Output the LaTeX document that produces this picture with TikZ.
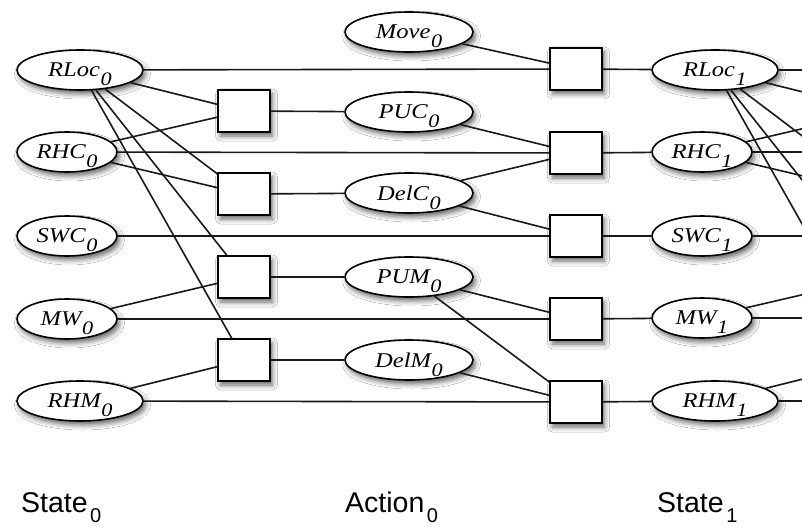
\documentclass[tikz,border=0pt]{standalone}
\usepackage{graphicx}
\usepackage{fontspec}
\usetikzlibrary{shapes.geometric,shadows.blur}
\newfontfamily\serifit{Liberation Serif}
\newfontfamily\sanslab{Liberation Sans}
\newcommand\nlab[2]{\scalebox{1.17}[1]{\serifit\itshape\fontsize{21}{23}\selectfont #1\kern0.5pt\smash{\raisebox{-9pt}{\fontsize{19}{19}\selectfont #2}}}}
\newcommand\blab[2]{{\sanslab\fontsize{28.5}{30}\selectfont #1\kern2.5pt\smash{\raisebox{-10pt}{\fontsize{20}{20}\selectfont #2}}}}
\begin{document}
\begin{tikzpicture}[x=1pt,y=-1pt,
  shad/.style={blur shadow={shadow xshift=2.5pt,shadow yshift=-4pt,shadow blur radius=5pt,shadow opacity=60}},
  var/.style={ellipse,draw=black,line width=1.6pt,fill=white,inner sep=0pt,minimum height=40pt,shad},
  wide/.style={var,minimum width=126pt},
  narrow/.style={var,minimum width=100pt},
  act/.style={var,minimum width=128pt},
  fac/.style={rectangle,draw=black,line width=1.6pt,fill=white,minimum width=52pt,minimum height=42pt,inner sep=0pt,shad},
  link/.style={draw=black!90,line width=1.6pt},
  ttl/.style={anchor=base west,inner sep=0pt}]
\clip (0,0) rectangle (802,529);
\fill[white] (0,0) rectangle (802,529);

% State 0
\node[wide]   (rloc0) at (80,70)  {\nlab{RLoc}{0}};
\node[narrow] (rhc0)  at (67,152) {\nlab{RHC}{0}};
\node[narrow] (swc0)  at (67,236) {\nlab{SWC}{0}};
\node[narrow] (mw0)   at (67,319) {\nlab{MW}{0}};
\node[wide]   (rhm0)  at (80,401) {\nlab{RHM}{0}};

% left factors
\node[fac] (a1) at (244,111) {};
\node[fac] (a2) at (244,194) {};
\node[fac] (a3) at (244,277) {};
\node[fac] (a4) at (244,360) {};

% Action 0
\node[act] (move0) at (409,32)  {\nlab{Move}{0}};
\node[act] (puc0)  at (409,112) {\nlab{PUC}{0}};
\node[act] (delc0) at (409,193) {\nlab{DelC}{0}};
\node[act] (pum0)  at (409,277) {\nlab{PUM}{0}};
\node[act] (delm0) at (409,360) {\nlab{DelM}{0}};

% right factors
\node[fac] (b1) at (576,69)  {};
\node[fac] (b2) at (576,153) {};
\node[fac] (b3) at (576,236) {};
\node[fac] (b4) at (576,319) {};
\node[fac] (b5) at (576,402) {};

% State 1
\node[wide]   (rloc1) at (715,70)  {\nlab{RLoc}{1}};
\node[narrow] (rhc1)  at (702,152) {\nlab{RHC}{1}};
\node[narrow] (swc1)  at (702,236) {\nlab{SWC}{1}};
\node[narrow] (mw1)   at (702,318) {\nlab{MW}{1}};
\node[wide]   (rhm1)  at (715,401) {\nlab{RHM}{1}};

% next slice (off picture)
\coordinate (c1) at (879,111);
\coordinate (c2) at (879,194);
\coordinate (c3) at (879,277);
\coordinate (c4) at (879,360);
\coordinate (e1) at (810,70);
\coordinate (e2) at (810,152);
\coordinate (e3) at (810,236);
\coordinate (e4) at (810,318);
\coordinate (e5) at (810,401);

% connectors state0 -> left factors
\draw[link] (rloc0) -- (a1);
\draw[link] (rloc0) -- (a2);
\draw[link] (rloc0) -- (a3);
\draw[link] (rloc0) -- (a4);
\draw[link] (rhc0) -- (a1);
\draw[link] (rhc0) -- (a2);
\draw[link] (mw0) -- (a3);
\draw[link] (rhm0) -- (a4);

% state0 -> right factors (persistence)
\draw[link] (rloc0) -- (b1);
\draw[link] (rhc0) -- (b2);
\draw[link] (swc0) -- (b3);
\draw[link] (mw0) -- (b4);
\draw[link] (rhm0) -- (b5);

% left factors -> actions
\draw[link] (a1) -- (puc0);
\draw[link] (a2) -- (delc0);
\draw[link] (a3) -- (pum0);
\draw[link] (a4) -- (delm0);

% actions -> right factors
\draw[link] (move0) -- (b1);
\draw[link] (puc0) -- (b2);
\draw[link] (delc0) -- (b2);
\draw[link] (delc0) -- (b3);
\draw[link] (pum0) -- (b4);
\draw[link] (pum0) -- (b5);
\draw[link] (delm0) -- (b5);

% right factors -> state1
\draw[link] (b1) -- (rloc1);
\draw[link] (b2) -- (rhc1);
\draw[link] (b3) -- (swc1);
\draw[link] (b4) -- (mw1);
\draw[link] (b5) -- (rhm1);

% state1 -> next slice
\draw[link] (rloc1) -- (c1);
\draw[link] (rloc1) -- (c2);
\draw[link] (rloc1) -- (c3);
\draw[link] (rloc1) -- (c4);
\draw[link] (rhc1) -- (c1);
\draw[link] (rhc1) -- (c2);
\draw[link] (mw1) -- (c3);
\draw[link] (rhm1) -- (c4);
\draw[link] (rloc1) -- (e1);
\draw[link] (rhc1) -- (e2);
\draw[link] (swc1) -- (e3);
\draw[link] (mw1) -- (e4);
\draw[link] (rhm1) -- (e5);

% titles
\node[ttl] (t0) at (21,512)  {\blab{State}{0}};
\node[ttl] (t1) at (345,512) {\blab{Action}{0}};
\node[ttl] (t2) at (657,512) {\blab{State}{1}};
\end{tikzpicture}
\end{document}
